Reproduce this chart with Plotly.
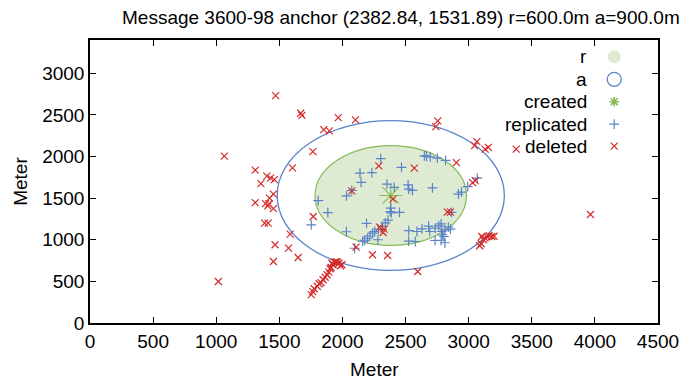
import plotly.graph_objects as go

title_text = "Message 3600-98 anchor (2382.84, 1531.89) r=600.0m a=900.0m"
anchor = (2382.84, 1531.89)
r_radius = 600.0
a_radius = 900.0

deleted_x = [1471, 1669, 1679, 1064, 1309, 1604, 1401, 1430, 1461, 1354, 1453, 1422, 1309, 1391,
             1409, 1417, 1453, 1383, 1411, 1586, 1466, 1573, 1649, 1453, 1017, 1967, 2103, 1852,
             1896, 1766, 1769, 2108, 2288, 2569, 2903, 3031, 3052, 2074, 2400, 2831, 2856, 2295,
             2330, 2322, 2238, 2358, 2596, 2755, 2739, 3065, 3047, 3130, 3156, 3377, 3965,
             3104, 3130, 3162, 3183, 3099, 3117, 3146, 3201, 3087,
             1753, 1765, 1776, 1800, 1816, 1831, 1847, 1863, 1878, 1892, 1902, 1910, 1925, 1935,
             1949, 1960, 1972, 1996, 1984, 1917]
deleted_y = [2731, 2520, 2494, 2004, 1836, 1864, 1764, 1740, 1723, 1675, 1548, 1500, 1447, 1435,
             1408, 1432, 1375, 1200, 1200, 1068, 940, 900, 787, 739, 499, 2467, 2440, 2324,
             2308, 2059, 1279, 912, 1888, 1860, 1927, 1687, 1711, 1588, 1488, 1332, 1332, 1152,
             1128, 1087, 820, 811, 619, 2428, 2359, 2179, 2131, 2088, 2110, 2088, 1303,
             1039, 1020, 1048, 1039, 952, 1000, 1036, 1042, 928,
             340, 376, 412, 442, 472, 484, 520, 550, 580, 612, 652, 667, 700, 732,
             736, 730, 718, 700, 688, 718]

replicated_x = [1808, 1884, 1753, 2032, 2074, 2139, 2148, 2233, 2303, 2468, 2353, 2410, 2520, 2525,
                2554, 2713, 2649, 2666, 2695, 2752, 2817, 2919, 2943, 2992, 3068, 2383, 2379, 2387,
                2452, 2361, 2340, 2317, 2285, 2256, 2238, 2217, 2199, 2176, 2191, 2031, 2281, 2160,
                2097, 2525, 2590, 2630, 2682, 2692, 2735, 2763, 2782, 2786, 2792, 2782, 2812, 2804,
                2839, 2856, 2525, 2577, 2734, 2812, 2864]
replicated_y = [1471, 1327, 1180, 1528, 1594, 1800, 1690, 1807, 1975, 1870, 1668, 1630, 1660, 1608,
                1594, 1624, 2008, 2002, 1996, 1980, 1954, 1549, 1572, 1639, 1740, 1380, 1339, 1324,
                1330, 1236, 1204, 1162, 1126, 1099, 1080, 1045, 1018, 994, 1198, 1096, 1000, 982,
                898, 1111, 1099, 1132, 1164, 1099, 1140, 1168, 1192, 1099, 1060, 994, 1120, 1039,
                1152, 1128, 984, 979, 991, 964, 1330]

created_x = [2382.84]
created_y = [1531.89]

x_ticks = [0, 500, 1000, 1500, 2000, 2500, 3000, 3500, 4000, 4500]
y_ticks = [0, 500, 1000, 1500, 2000, 2500, 3000]
legend_labels = ["r", "a", "created", "replicated", "deleted"]

GREEN_FILL = "#deebd2"
GREEN_LINE = "#86bc58"
BLUE = "#5a83c9"
RED = "#d42a2a"
FONT = "Liberation Sans, Arial, sans-serif"

fig = go.Figure()

fig.add_shape(type="circle", xref="x", yref="y",
              x0=anchor[0] - r_radius, x1=anchor[0] + r_radius,
              y0=anchor[1] - r_radius, y1=anchor[1] + r_radius,
              fillcolor=GREEN_FILL, line=dict(color=GREEN_LINE, width=1.2), layer="below")
fig.add_shape(type="circle", xref="x", yref="y",
              x0=anchor[0] - a_radius, x1=anchor[0] + a_radius,
              y0=anchor[1] - a_radius, y1=anchor[1] + a_radius,
              fillcolor="rgba(0,0,0,0)", line=dict(color=BLUE, width=1.3), layer="below")

fig.add_trace(go.Scatter(x=created_x, y=created_y, mode="markers",
                         marker=dict(symbol="asterisk-open", size=19, color=GREEN_LINE,
                                     line=dict(color=GREEN_LINE, width=1.2)),
                         showlegend=False))
fig.add_trace(go.Scatter(x=replicated_x, y=replicated_y, mode="markers",
                         marker=dict(symbol="cross-thin-open", size=7, color=BLUE,
                                     line=dict(color=BLUE, width=1.2)),
                         showlegend=False))
fig.add_trace(go.Scatter(x=deleted_x, y=deleted_y, mode="markers",
                         marker=dict(symbol="x-thin-open", size=7, color=RED,
                                     line=dict(color=RED, width=1.2)),
                         showlegend=False))

# custom gnuplot-style key (text left, sample right)
key_y = [0.941, 0.861, 0.782, 0.703, 0.625]
key_sym_x = 0.923
key_text_x = 0.878
key_styles = [
    dict(symbol="circle", size=13, color=GREEN_FILL, line=dict(width=0)),
    dict(symbol="circle-open", size=14, color=BLUE, line=dict(color=BLUE, width=1.3)),
    dict(symbol="asterisk-open", size=8, color=GREEN_LINE, line=dict(color=GREEN_LINE, width=1.6)),
    dict(symbol="cross-thin-open", size=7, color=BLUE, line=dict(color=BLUE, width=1.2)),
    dict(symbol="x-thin-open", size=7, color=RED, line=dict(color=RED, width=1.2)),
]
for lab, ky, st in zip(legend_labels, key_y, key_styles):
    fig.add_trace(go.Scatter(x=[key_sym_x], y=[ky], xaxis="x2", yaxis="y2", mode="markers",
                             marker=st, showlegend=False, hoverinfo="skip"))
    fig.add_annotation(text=lab, x=key_text_x, y=ky, xref="paper", yref="paper",
                       xanchor="right", yanchor="middle", showarrow=False,
                       font=dict(size=19, color="black", family=FONT))

# title as annotation, right edge near the canvas edge
fig.add_annotation(text=title_text, x=1.0415, y=1.081, xref="paper", yref="paper",
                   xanchor="right", yanchor="middle", showarrow=False,
                   font=dict(size=19, color="black", family=FONT))
# x axis title
fig.add_annotation(text="Meter", x=0.5, y=-0.166, xref="paper", yref="paper",
                   xanchor="center", yanchor="middle", showarrow=False,
                   font=dict(size=19, color="black", family=FONT))

axis_common = dict(showline=True, linecolor="black", linewidth=1.5, mirror="ticks",
                   ticks="inside", ticklen=6, tickcolor="black", tickwidth=1,
                   showgrid=False, zeroline=False,
                   tickfont=dict(size=19, color="black", family=FONT))

fig.update_layout(
    width=691, height=383,
    margin=dict(l=90, r=26, t=40, b=60),
    paper_bgcolor="white", plot_bgcolor="white",
    xaxis=dict(range=[0, 4500], tickvals=x_ticks, **axis_common),
    yaxis=dict(range=[0, 3400], tickvals=y_ticks,
               title=dict(text="Meter", font=dict(size=19, color="black", family=FONT), standoff=10),
               **axis_common),
    xaxis2=dict(overlaying="x", range=[0, 1], visible=False),
    yaxis2=dict(overlaying="y", range=[0, 1], visible=False),
    showlegend=False,
)

fig.write_html("out.html", config={"displayModeBar": False},
               post_script="document.body.style.margin='0';document.body.style.padding='0';")
